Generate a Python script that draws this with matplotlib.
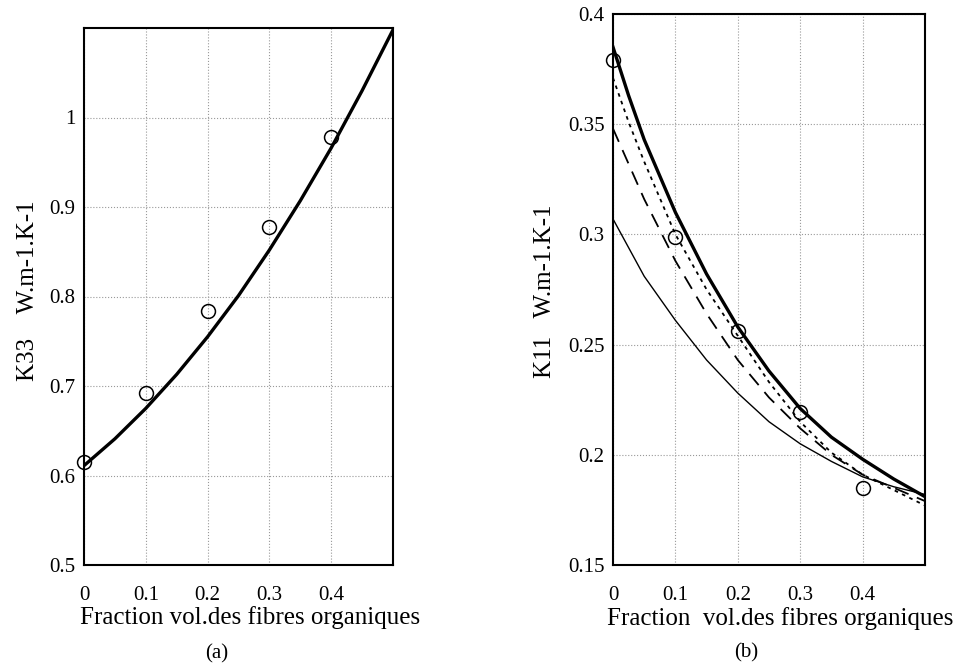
import numpy as np
import matplotlib
matplotlib.use("Agg")
import matplotlib.pyplot as plt
from matplotlib.ticker import FormatStrFormatter

plt.rcParams['font.family'] = ['Liberation Serif', 'DejaVu Serif']

# (a) K33 vs fibre volume fraction
xa_curve = [0, 0.025, 0.05, 0.1, 0.15, 0.2, 0.25, 0.3, 0.35, 0.4, 0.45, 0.5]
ya_curve = [0.611, 0.626, 0.641, 0.675, 0.713, 0.755, 0.801, 0.852, 0.907, 0.966, 1.030, 1.098]
xa_meas = [0, 0.1, 0.2, 0.3, 0.4]
ya_meas = [0.615, 0.692, 0.784, 0.878, 0.978]

# (b) K11 vs fibre volume fraction, four models
xb = [0, 0.025, 0.05, 0.1, 0.15, 0.2, 0.25, 0.3, 0.35, 0.4, 0.45, 0.5]
yb_thick = [0.385, 0.363, 0.343, 0.310, 0.282, 0.258, 0.238, 0.221, 0.208, 0.198, 0.189, 0.181]
yb_dot = [0.371, 0.351, 0.333, 0.300, 0.275, 0.254, 0.233, 0.215, 0.201, 0.191, 0.184, 0.177]
yb_dash = [0.348, 0.332, 0.316, 0.288, 0.264, 0.243, 0.226, 0.212, 0.200, 0.191, 0.185, 0.179]
yb_thin = [0.307, 0.294, 0.281, 0.261, 0.243, 0.228, 0.215, 0.205, 0.197, 0.190, 0.1855, 0.182]
xb_meas = [0, 0.1, 0.2, 0.3, 0.4]
yb_meas = [0.379, 0.299, 0.256, 0.2195, 0.185]

W, H = 962, 667
fig = plt.figure(figsize=(W / 100, H / 100), dpi=100)

def box(l, t, r, b):
    return [l / W, 1 - b / H, (r - l) / W, (b - t) / H]

def style(ax, yticks):
    ax.set_xlim(0, 0.5)
    ax.set_xticks([0, 0.1, 0.2, 0.3, 0.4])
    ax.set_yticks(yticks)
    ax.xaxis.set_major_formatter(FormatStrFormatter('%g'))
    ax.yaxis.set_major_formatter(FormatStrFormatter('%g'))
    ax.tick_params(length=0, labelsize=15)
    ax.tick_params(axis='x', pad=15)
    ax.tick_params(axis='y', pad=6)
    ax.grid(True, color='#999999', linestyle=':', linewidth=0.8)
    for s in ax.spines.values():
        s.set_linewidth(1.5)

ax1 = fig.add_axes(box(84, 28, 393, 565))
ax1.plot(xa_curve, ya_curve, color='black', lw=2.4)
ax1.plot(xa_meas, ya_meas, 'o', mfc='none', mec='black', ms=10, mew=1.1, clip_on=False)
ax1.set_ylim(0.5, 1.1)
style(ax1, [0.5, 0.6, 0.7, 0.8, 0.9, 1.0])

ax2 = fig.add_axes(box(613, 14, 925, 565))
ax2.plot(xb, yb_thin, color='black', lw=1.0)
ax2.plot(xb, yb_dash, color='black', lw=1.3, linestyle=(0, (8, 5)))
ax2.plot(xb, yb_dot, color='black', lw=1.3, linestyle=(0, (2, 2.5)))
ax2.plot(xb, yb_thick, color='black', lw=2.4)
ax2.plot(xb_meas, yb_meas, 'o', mfc='none', mec='black', ms=10, mew=1.1, clip_on=False)
ax2.set_ylim(0.15, 0.4)
style(ax2, [0.15, 0.2, 0.25, 0.3, 0.35, 0.4])

fig.text(28 / W, 1 - 291 / H, "K33    W.m-1.K-1", rotation=90, ha='center', va='center', fontsize=18)
fig.text(545 / W, 1 - 291 / H, "K11   W.m-1.K-1", rotation=90, ha='center', va='center', fontsize=18)
fig.text(250 / W, 1 - 618 / H, "Fraction vol.des fibres organiques", ha='center', va='center', fontsize=18)
fig.text(780 / W, 1 - 619 / H, "Fraction  vol.des fibres organiques", ha='center', va='center', fontsize=18)
fig.text(217 / W, 1 - 654 / H, "(a)", ha='center', va='center', fontsize=15)
fig.text(746 / W, 1 - 653 / H, "(b)", ha='center', va='center', fontsize=15)

fig.savefig("out.png", dpi=100)
